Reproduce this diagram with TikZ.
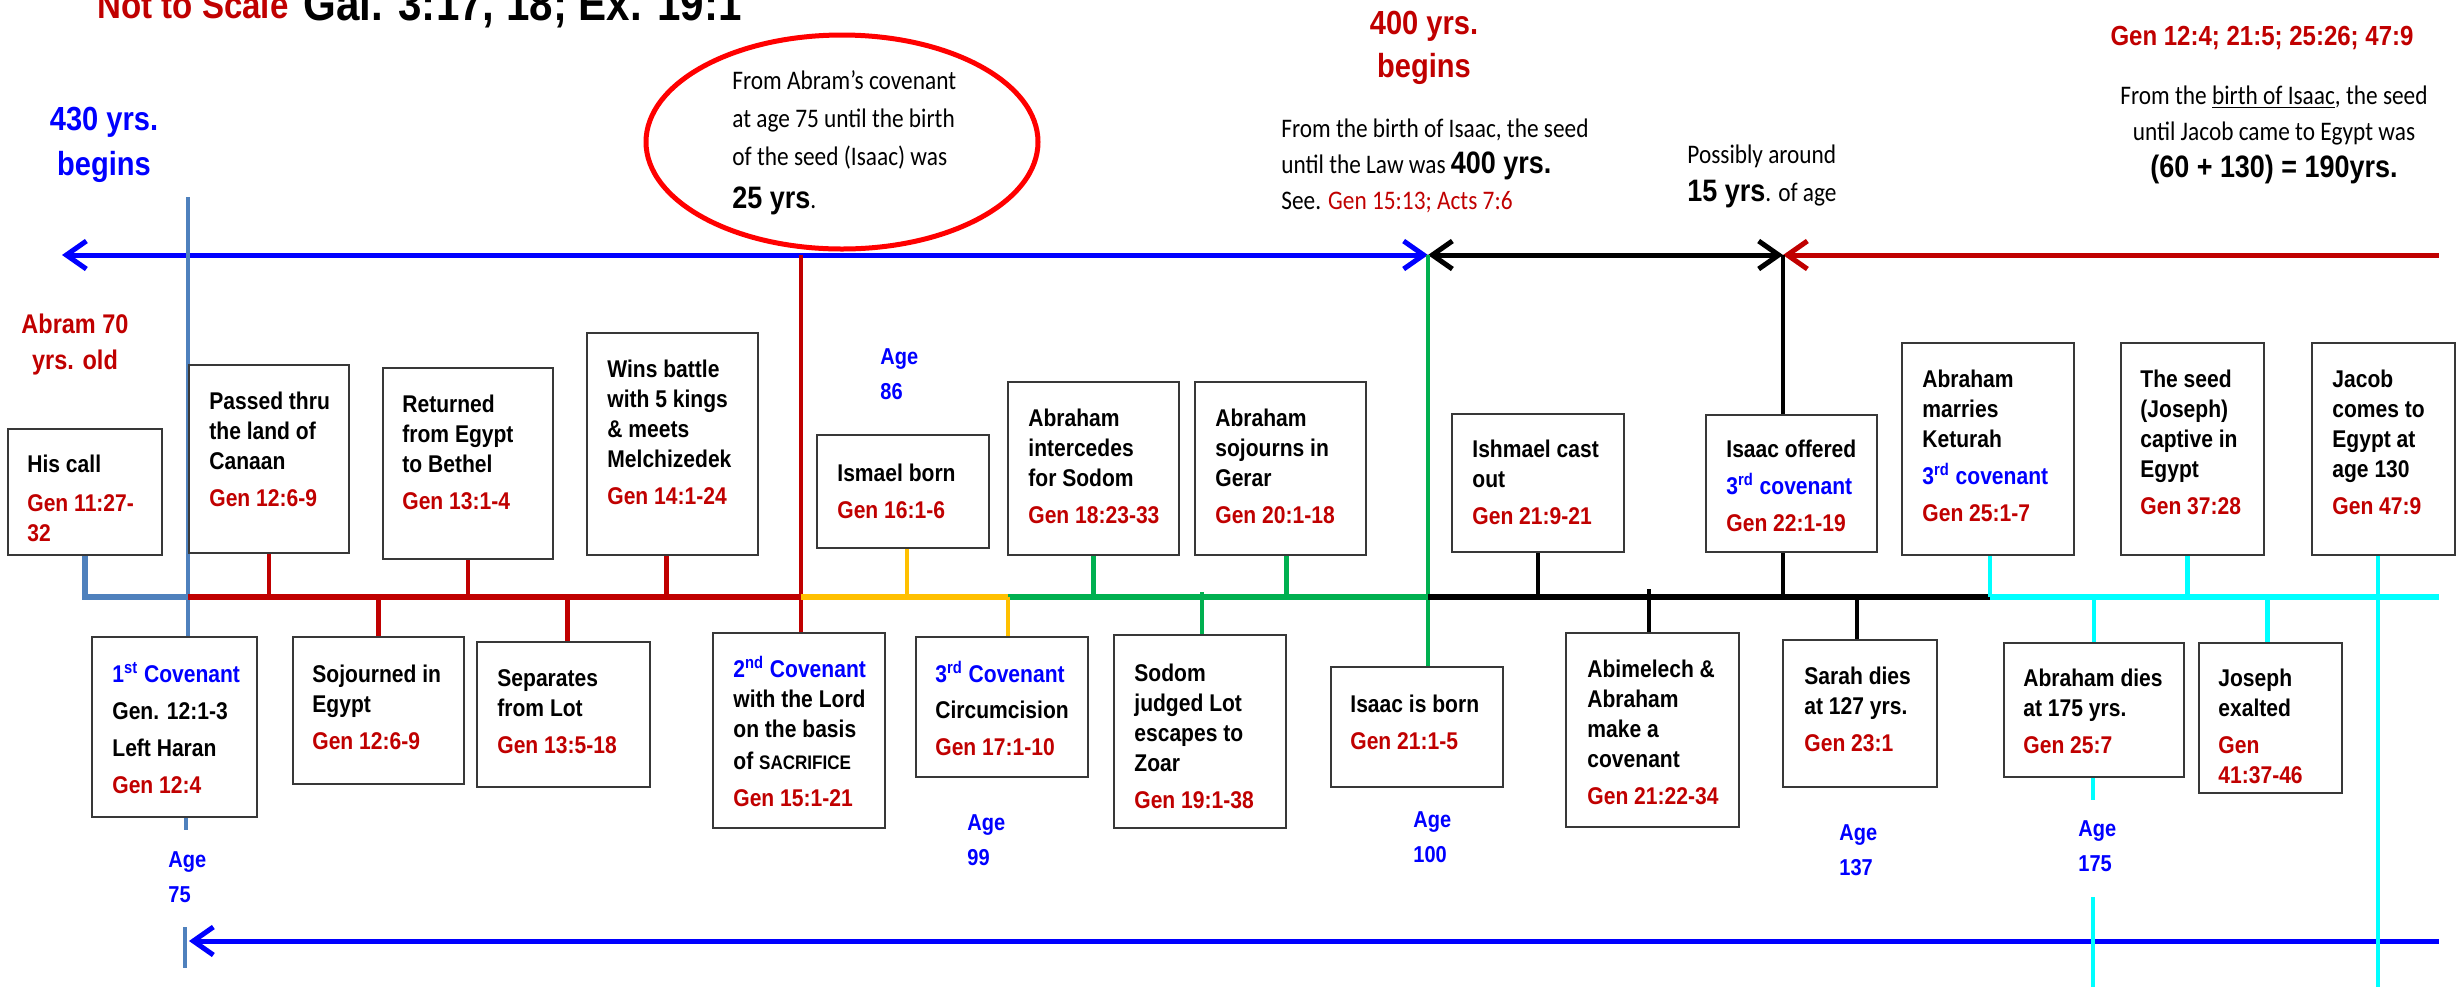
\documentclass[tikz,border=0pt]{standalone}
\usepackage{fontspec}
\usetikzlibrary{arrows.meta,shapes.geometric,fit,calc}
\newfontfamily\arf[FakeStretch=0.87]{Liberation Sans}
\newfontfamily\calf[FakeStretch=0.87]{Carlito}
\definecolor{dr}{HTML}{C00000}
\definecolor{bl}{HTML}{0000FF}
\definecolor{sb}{HTML}{4F81BD}
\definecolor{gd}{HTML}{FFC000}
\definecolor{gr}{HTML}{00B050}
\definecolor{cy}{HTML}{00FFFF}
\definecolor{er}{HTML}{FF0000}
\definecolor{bd}{HTML}{383838}
\newcommand\BoxFont{\arf\bfseries\fontsize{12.1}{15}\selectfont}
\newcommand\AgeFont{\arf\bfseries\fontsize{11.5}{17.5}\selectfont}
\newcommand\CalFont{\calf\fontsize{13.4}{19.2}\selectfont}
\newcommand\InB{\arf\bfseries\fontsize{15.5}{19.2}\selectfont}
\newcommand\TabL[1]{\begin{tabular}[t]{@{}l@{}}#1\end{tabular}}
\newcommand\TabC[1]{\begin{tabular}[t]{@{}c@{}}#1\end{tabular}}
\pgfdeclarelayer{bg}
\pgfsetlayers{bg,main}
\begin{document}
\begin{tikzpicture}[x=0.5pt,y=-0.5pt,
  >={Straight Barb[length=10pt,width=14pt]},
  box/.style={draw=bd,line width=1.25pt,fill=white,inner sep=0pt},
  bt/.style={anchor=base west,inner sep=0pt,font=\BoxFont},
  arr/.style={line width=2.5pt},
  tline/.style={line width=3.25pt},
  conn/.style={line width=2.25pt},
  agel/.style={anchor=base west,inner sep=0pt,font=\AgeFont,text=bl},
  cal/.style={anchor=base west,inner sep=0pt,font=\CalFont}]
\useasboundingbox (0,0) rectangle (2464,987);
\clip (0,0) rectangle (2464,987);

% ---------- boxes ----------
\node[box,fit={(8,429)(162,555)}] (hiscall) {};
\node[box,fit={(189,365)(349,553)}] (passed) {};
\node[box,fit={(383,368)(553,559)}] (returned) {};
\node[box,fit={(587,333)(758,555)}] (wins) {};
\node[box,fit={(817,435)(989,548)}] (ismael) {};
\node[box,fit={(1008,382)(1179,555)}] (intercedes) {};
\node[box,fit={(1195,382)(1366,555)}] (sojourns) {};
\node[box,fit={(1452,414)(1624,552)}] (ishmael) {};
\node[box,fit={(1706,415)(1877,552)}] (isaacoff) {};
\node[box,fit={(1902,343)(2074,555)}] (marries) {};
\node[box,fit={(2121,343)(2264,555)}] (seed) {};
\node[box,fit={(2312,343)(2455,555)}] (jacob) {};
\node[box,fit={(92,637)(257,817)}] (cov1) {};
\node[box,fit={(293,637)(464,784)}] (sojourned) {};
\node[box,fit={(477,642)(650,787)}] (separates) {};
\node[box,fit={(713,633)(885,828)}] (cov2) {};
\node[box,fit={(916,637)(1088,777)}] (cov3) {};
\node[box,fit={(1114,635)(1286,828)}] (sodom) {};
\node[box,fit={(1331,667)(1503,787)}] (isaacborn) {};
\node[box,fit={(1566,633)(1739,827)}] (abimelech) {};
\node[box,fit={(1783,640)(1937,787)}] (sarah) {};
\node[box,fit={(2004,643)(2184,777)}] (abdies) {};
\node[box,fit={(2199,643)(2342,793)}] (joseph) {};

\node[ellipse,draw=er,line width=2.5pt,minimum width=196pt,minimum height=107pt,inner sep=0pt] (ell) at (842,142) {};

% ---------- coordinates ----------
\coordinate (aL) at (62,255);
\coordinate (aG) at (1428,255);
\coordinate (aK) at (1783,255);
\coordinate (aR) at (2439,255);
\coordinate (bL) at (189,941);
\coordinate (bR) at (2439,941);
\coordinate (sTop) at (188,197);
\coordinate (sStub) at (186,830);
\coordinate (tk1) at (185,927);
\coordinate (tk2) at (185,968);
\coordinate (rTop) at (801,255);
\coordinate (t0) at (85,597);
\coordinate (t1) at (188,597);
\coordinate (t2) at (801,597);
\coordinate (t3) at (1008,597);
\coordinate (t4) at (1428,597);
\coordinate (t5) at (1990,597);
\coordinate (t6) at (2439,597);
\coordinate (abTop) at (1649,589);
\coordinate (sdTop) at (1202,592);
\coordinate (jB) at (2378,987);
\coordinate (ad1) at (2093,800);
\coordinate (ad2) at (2093,897);
\coordinate (ad3) at (2093,987);

\begin{pgfonlayer}{bg}
% arrows
\draw[arr,bl,<->] (aL) -- (aG);
\draw[arr,black,<->] (aG) -- (aK);
\draw[arr,dr,<-] (aK) -- (aR);
\draw[arr,bl,<-] (bL) -- (bR);
% long verticals
\draw[conn,sb] (sTop) -- (cov1.north -| sTop);
\draw[conn,sb] (cov1.south -| sStub) -- (sStub);
\draw[conn,sb] (tk1) -- (tk2);
\draw[conn,dr] (rTop) -- (cov2.north -| rTop);
\draw[conn,gr] (aG) -- (isaacborn.north -| aG);
\draw[conn,black] (aK) -- (isaacoff.north -| aK);
\draw[conn,black] (isaacoff.south -| aK) -- (aK |- t4);
\draw[conn,cy] (jacob.south -| jB) -- (jB);
% timeline
\draw[tline,sb,line join=miter] (hiscall.south) -- (t0) -- (t1);
\draw[tline,dr] (t1) -- (t2);
\draw[tline,gd] (t2) -- (t3);
\draw[tline,gr] (t3) -- (t4);
\draw[tline,black] (t4) -- (t5);
\draw[tline,cy] (t5) -- (t6);
% connectors
\draw[conn,dr] (passed.south) -- (passed.south |- t1);
\draw[conn,dr] (returned.south) -- (returned.south |- t1);
\draw[conn,dr] ([xshift=-3pt]wins.south) -- ([xshift=-3pt]wins.south |- t1);
\draw[conn,dr] (sojourned.north |- t1) -- (sojourned.north);
\draw[conn,dr] ([xshift=2pt]separates.north |- t1) -- ([xshift=2pt]separates.north);
\draw[conn,gd] ([xshift=2pt]ismael.south) -- ([xshift=2pt]ismael.south |- t2);
\draw[conn,gd] (t3) -- (cov3.north -| t3);
\draw[conn,gr] (intercedes.south) -- (intercedes.south |- t3);
\draw[conn,gr] ([xshift=3pt]sojourns.south) -- ([xshift=3pt]sojourns.south |- t3);
\draw[conn,gr] (sdTop) -- (sodom.north -| sdTop);
\draw[conn,black] (ishmael.south) -- (ishmael.south |- t4);
\draw[conn,black] (abTop) -- (abimelech.north -| abTop);
\draw[conn,black] ([xshift=-1.5pt]sarah.north |- t4) -- ([xshift=-1.5pt]sarah.north);
\draw[conn,cy] (marries.south -| t5) -- (t5);
\draw[conn,cy] ([xshift=-2.5pt]seed.south) -- ([xshift=-2.5pt]seed.south |- t5);
\draw[conn,cy] (abdies.north |- t5) -- (abdies.north);
\draw[conn,cy] (abdies.south -| ad1) -- (ad1);
\draw[conn,cy] (ad2) -- (ad3);
\draw[conn,cy] ([xshift=-1.5pt]joseph.north |- t5) -- ([xshift=-1.5pt]joseph.north);
\end{pgfonlayer}

% ---------- box texts ----------
\node[bt] (hiscall-t) at (27,472) {\TabL{His call\\[4.5pt] \color{dr}Gen 11:27-\\ \color{dr}32}};
\node[bt] (passed-t) at (209,409) {\TabL{Passed thru\\the land of\\Canaan\\[3.5pt] \color{dr}Gen 12:6-9}};
\node[bt] (returned-t) at (402,412) {\TabL{Returned\\from Egypt\\to Bethel\\[3.5pt] \color{dr}Gen 13:1-4}};
\node[bt] (wins-t) at (607,377) {\TabL{Wins battle\\with 5 kings\\\& meets\\Melchizedek\\[3.5pt] \color{dr}Gen 14:1-24}};
\node[bt] (ismael-t) at (837,481) {\TabL{Ismael born\\[3.5pt] \color{dr}Gen 16:1-6}};
\node[bt] (intercedes-t) at (1028,426) {\TabL{Abraham\\intercedes\\for Sodom\\[3.5pt] \color{dr}Gen 18:23-33}};
\node[bt] (sojourns-t) at (1215,426) {\TabL{Abraham\\sojourns in\\Gerar\\[3.5pt] \color{dr}Gen 20:1-18}};
\node[bt] (ishmael-t) at (1472,457) {\TabL{Ishmael cast\\out\\[3.5pt] \color{dr}Gen 21:9-21}};
\node[bt] (isaacoff-t) at (1726,457) {\TabL{Isaac offered\\[3.5pt] \color{bl}3\textsuperscript{rd} covenant\\[3.5pt] \color{dr}Gen 22:1-19}};
\node[bt] (marries-t) at (1922,387) {\TabL{Abraham\\marries\\Keturah\\[3.5pt] \color{bl}3\textsuperscript{rd} covenant\\[3.5pt] \color{dr}Gen 25:1-7}};
\node[bt] (seed-t) at (2140,387) {\TabL{The seed\\(Joseph)\\captive in\\Egypt\\[3.5pt] \color{dr}Gen 37:28}};
\node[bt] (jacob-t) at (2332,387) {\TabL{Jacob\\comes to\\Egypt at\\age 130\\[3.5pt] \color{dr}Gen 47:9}};
\node[bt] (cov1-t) at (112,682) {\TabL{\color{bl}1\textsuperscript{st} Covenant\\[3.5pt] Gen. 12:1-3\\[3.5pt] Left Haran\\[3.5pt] \color{dr}Gen 12:4}};
\node[bt] (sojourned-t) at (312,682) {\TabL{Sojourned in\\Egypt\\[3.5pt] \color{dr}Gen 12:6-9}};
\node[bt] (separates-t) at (497,686) {\TabL{Separates\\from Lot\\[3.5pt] \color{dr}Gen 13:5-18}};
\node[bt] (cov2-t) at (733,677) {\TabL{\color{bl}2\textsuperscript{nd} Covenant\\with the Lord\\on the basis\\[1pt] of {\fontsize{9.8}{15}\selectfont SACRIFICE}\\[3.5pt] \color{dr}Gen 15:1-21}};
\node[bt] (cov3-t) at (935,682) {\TabL{\color{bl}3\textsuperscript{rd} Covenant\\[3pt] Circumcision\\[3.5pt] \color{dr}Gen 17:1-10}};
\node[bt] (sodom-t) at (1134,681) {\TabL{Sodom\\judged Lot\\escapes to\\Zoar\\[3.5pt] \color{dr}Gen 19:1-38}};
\node[bt] (isaacborn-t) at (1350,712) {\TabL{Isaac is born\\[3.5pt] \color{dr}Gen 21:1-5}};
\node[bt] (abimelech-t) at (1587,677) {\TabL{Abimelech \&\\Abraham\\make a\\covenant\\[3.5pt] \color{dr}Gen 21:22-34}};
\node[bt] (sarah-t) at (1804,684) {\TabL{Sarah dies\\at 127 yrs.\\[3.5pt] \color{dr}Gen 23:1}};
\node[bt] (abdies-t) at (2023,686) {\TabL{Abraham dies\\at 175 yrs.\\[3.5pt] \color{dr}Gen 25:7}};
\node[bt] (joseph-t) at (2218,686) {\TabL{Joseph\\exalted\\[3.5pt] \color{dr}Gen\\ \color{dr}41:37-46}};

% ---------- free labels ----------
\node[anchor=base west,inner sep=0pt,font=\arf\bfseries\fontsize{19}{19}\selectfont,text=dr] (nts) at (97,18) {Not to Scale};
\node[anchor=base west,inner sep=0pt,font=\arf\bfseries\fontsize{24.2}{24}\selectfont] (gal) at (303,20) {Gal. 3:17, 18; Ex. 19:1};

\node[anchor=base,inner sep=0pt,font=\arf\bfseries\fontsize{16.7}{22.5}\selectfont,text=bl] (b430) at (104,130) {\TabC{430 yrs.\\begins}};
\node[anchor=base,inner sep=0pt,font=\arf\bfseries\fontsize{16.7}{21.5}\selectfont,text=dr] (b400) at (1424,34) {\TabC{400 yrs.\\begins}};
\node[anchor=base,inner sep=0pt,font=\arf\bfseries\fontsize{13.5}{18}\selectfont,text=dr] (abram) at (75,333) {\TabC{Abram 70\\yrs. old}};

\node[cal] (ell-t) at (732,89) {\TabL{From Abram’s covenant\\at age 75 until the birth\\of the seed (Isaac) was\\[2pt] {\InB 25 yrs}.}};
\node[cal] (law-t) at (1281,137) {\fontsize{13.4}{18}\selectfont\TabL{From the birth of Isaac, the seed\\until the Law was {\InB 400 yrs.}\\See. {\color{dr}Gen 15:13; Acts 7:6}}};
\node[cal] (fif-t) at (1687,163) {\TabL{Possibly around\\{\InB 15 yrs}. of age}};
\node[anchor=base,inner sep=0pt,font=\arf\bfseries\fontsize{13.8}{18}\selectfont,text=dr] (genref) at (2262,45) {Gen 12:4; 21:5; 25:26; 47:9};
\node[anchor=base,inner sep=0pt,font=\CalFont] (egypt-t) at (2274,104) {\fontsize{13.4}{18}\selectfont\TabC{From the \underline{birth of Isaac}, the seed\\until Jacob came to Egypt was\\[0.5pt] {\InB (60 + 130) = 190yrs.}}};

\node[agel] (age75) at (168,867) {\TabL{Age\\75}};
\node[agel] (age86) at (880,364) {\TabL{Age\\86}};
\node[agel] (age99) at (967,830) {\TabL{Age\\99}};
\node[agel] (age100) at (1413,827) {\TabL{Age\\100}};
\node[agel] (age137) at (1839,840) {\TabL{Age\\137}};
\node[agel] (age175) at (2078,836) {\TabL{Age\\175}};
\end{tikzpicture}
\end{document}
